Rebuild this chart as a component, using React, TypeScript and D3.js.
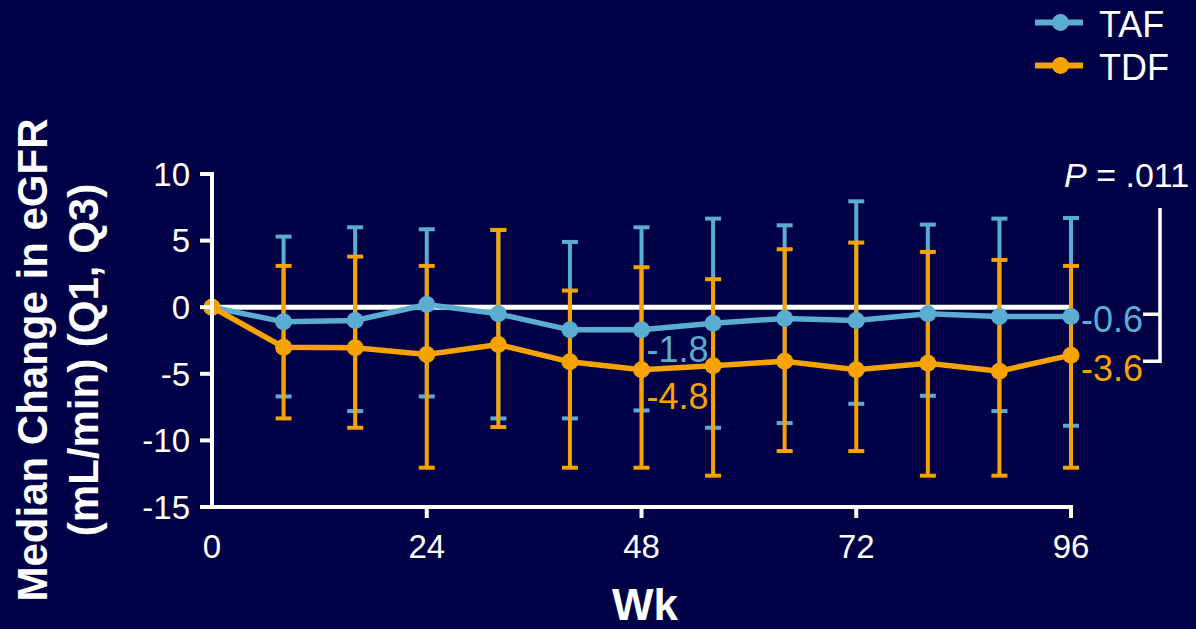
import * as d3 from "d3";

const weeks = [0, 8, 16, 24, 32, 40, 48, 56, 64, 72, 80, 88, 96];
const tafMedian = [0, -1.1, -1.0, 0.2, -0.5, -1.7, -1.7, -1.2, -0.85, -1.0, -0.5, -0.7, -0.7];
const tafQ1 = [0, -6.7, -7.8, -6.7, -8.35, -8.35, -7.75, -9.05, -8.7, -7.25, -6.65, -7.8, -8.9];
const tafQ3 = [0, 5.3, 6.0, 5.85, 5.8, 4.9, 6.0, 6.65, 6.15, 7.95, 6.2, 6.65, 6.7];
const tdfMedian = [0, -3.0, -3.05, -3.55, -2.8, -4.1, -4.7, -4.4, -4.05, -4.7, -4.2, -4.8, -3.6];
const tdfQ1 = [0, -8.35, -9.05, -12.05, -9.0, -12.05, -12.05, -12.65, -10.8, -10.8, -12.65, -12.65, -12.05];
const tdfQ3 = [0, 3.1, 3.8, 3.1, 5.8, 1.25, 3.0, 2.1, 4.35, 4.85, 4.15, 3.55, 3.1];

const yTicks = [10, 5, 0, -5, -10, -15];
const xTicks = [0, 24, 48, 72, 96];

const BG = "#000046";
const BLUE = "#5aadd1";
const ORANGE = "#f6a300";
const FONT = "'Liberation Sans', Arial, sans-serif";

const width = 1196;
const height = 629;

export default function App() {
  const x = d3.scaleLinear([0, 96], [212, 1071]);
  const y = d3.scaleLinear([-15, 10], [507, 174]);

  const series = [
    { name: "TAF", color: BLUE, med: tafMedian, q1: tafQ1, q3: tafQ3 },
    { name: "TDF", color: ORANGE, med: tdfMedian, q1: tdfQ1, q3: tdfQ3 },
  ];

  const line = d3
    .line<number>()
    .x((_, i) => x(weeks[i]))
    .y((d) => y(d));

  const capW = 8;

  return (
    <svg
      width={width}
      height={height}
      style={{ position: "absolute", left: 0, top: 0, background: BG }}
      fontFamily={FONT}
    >
      <rect width={width} height={height} fill={BG} />

      {/* zero reference */}
      <line x1={x(0)} x2={x(96)} y1={y(0)} y2={y(0)} stroke="white" strokeWidth={5} />

      {/* error bars */}
      {series.map((s) => (
        <g key={s.name + "err"} stroke={s.color} strokeWidth={4}>
          {weeks.map((w, i) =>
            i === 0 ? null : (
              <g key={w}>
                <line x1={x(w)} x2={x(w)} y1={y(s.q1[i])} y2={y(s.q3[i])} />
                <line x1={x(w) - capW} x2={x(w) + capW} y1={y(s.q1[i])} y2={y(s.q1[i])} />
                <line x1={x(w) - capW} x2={x(w) + capW} y1={y(s.q3[i])} y2={y(s.q3[i])} />
              </g>
            )
          )}
        </g>
      ))}

      {/* lines and markers */}
      {series.map((s) => (
        <g key={s.name + "line"}>
          <path d={line(s.med) ?? ""} fill="none" stroke={s.color} strokeWidth={5.5} />
          {s.med.map((v, i) => (
            <circle key={i} cx={x(weeks[i])} cy={y(v)} r={8.5} fill={s.color} />
          ))}
        </g>
      ))}

      {/* y axis */}
      <g stroke="white" strokeWidth={4}>
        <line x1={x(0)} x2={x(0)} y1={y(10) - 2} y2={y(-15) + 2} />
        {yTicks.map((t) => (
          <line key={t} x1={x(0) - 12} x2={x(0)} y1={y(t)} y2={y(t)} />
        ))}
      </g>
      {yTicks.map((t) => (
        <text
          key={t}
          x={x(0) - 22}
          y={y(t)}
          dy="0.36em"
          textAnchor="end"
          fill="white"
          fontSize={33}
        >
          {t}
        </text>
      ))}

      {/* x axis */}
      <g stroke="white" strokeWidth={4}>
        <line x1={x(0) - 2} x2={x(96) + 2} y1={y(-15)} y2={y(-15)} />
        {xTicks.slice(1).map((t) => (
          <line key={t} x1={x(t)} x2={x(t)} y1={y(-15)} y2={y(-15) + 11} />
        ))}
      </g>
      {xTicks.map((t) => (
        <text key={t} x={x(t)} y={558} textAnchor="middle" fill="white" fontSize={33}>
          {t}
        </text>
      ))}
      <text x={645} y={620} textAnchor="middle" fill="white" fontSize={44} fontWeight="bold">
        Wk
      </text>

      {/* y title */}
      <g transform="translate(47,360) rotate(-90)">
        <text textAnchor="middle" fill="white" fontSize={42} fontWeight="bold">
          Median Change in eGFR
        </text>
        <text y={51} textAnchor="middle" fill="white" fontSize={42} fontWeight="bold">
          (mL/min) (Q1, Q3)
        </text>
      </g>

      {/* value labels */}
      <text x={x(48) + 5} y={y(-1.8) + 31} fill={BLUE} fontSize={36}>-1.8</text>
      <text x={x(48) + 5} y={y(-4.8) + 38} fill={ORANGE} fontSize={36}>-4.8</text>
      <text x={x(96) + 10} y={y(-0.6) + 17} fill={BLUE} fontSize={36}>-0.6</text>
      <text x={x(96) + 10} y={y(-3.6) + 26} fill={ORANGE} fontSize={36}>-3.6</text>

      {/* P bracket */}
      <path
        d={`M1143,${y(-0.6) - 1}H1160V208M1160,${y(-0.6) - 1}V${y(-3.6) + 6}H1143`}
        fill="none"
        stroke="white"
        strokeWidth={3.5}
      />
      <text x={1064} y={187} fill="white" fontSize={34}>
        <tspan fontStyle="italic">P</tspan> = .011
      </text>

      {/* legend */}
      {series.map((s, i) => (
        <g key={s.name + "leg"} transform={`translate(0,${22.5 + i * 43})`}>
          <line x1={1035} x2={1083} y1={0} y2={0} stroke={s.color} strokeWidth={6} />
          <circle cx={1060.5} cy={0} r={8.5} fill={s.color} />
          <text x={1099} y={14} fill="white" fontSize={36}>
            {s.name}
          </text>
        </g>
      ))}
    </svg>
  );
}
